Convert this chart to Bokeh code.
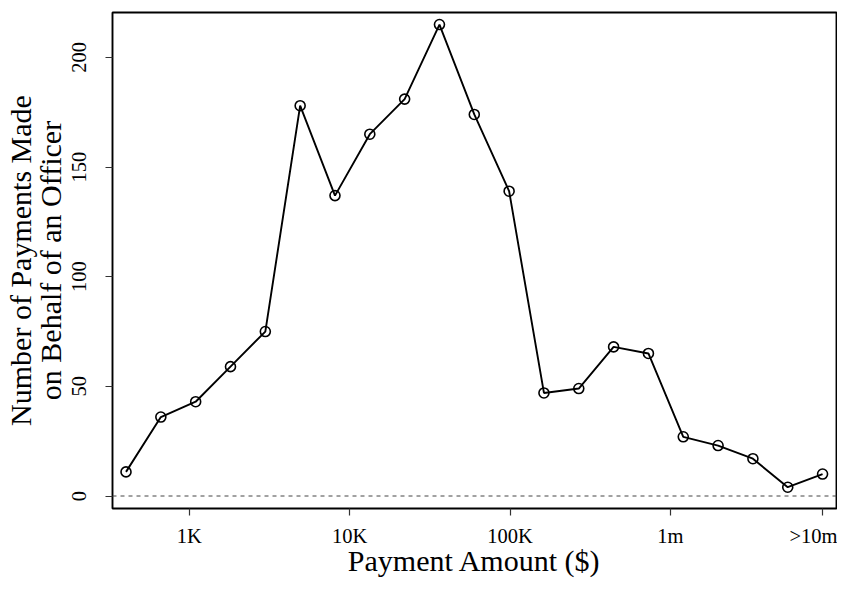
import numpy as np
from bokeh.plotting import figure
from bokeh.models import Range1d, FixedTicker, Span
from bokeh.embed import file_html
from bokeh.resources import INLINE

# ---- data ----
# x positions: natural log of payment amount (bins of width 0.5)
log_amount = [6.0, 6.5, 7.0, 7.5, 8.0, 8.5, 9.0, 9.5, 10.0, 10.5, 11.0,
              11.5, 12.0, 12.5, 13.0, 13.5, 14.0, 14.5, 15.0, 15.5, 16.0]
n_payments = [11, 36, 43, 59, 75, 178, 137, 165, 181, 215, 174,
              139, 47, 49, 68, 65, 27, 23, 17, 4, 10]
tick_amounts = [1000, 10000, 100000, 1000000]
tick_labels = ["1K", "10K", "100K", "1m", ">10m"]
y_ticks = [0, 50, 100, 150, 200]

x_lo, x_hi = 5.806, 16.2
y_lo, y_hi = -5.7, 220.5

FONT = "Liberation Serif"

p = figure(width=837, height=579, output_backend="svg", toolbar_location=None,
           x_range=Range1d(x_lo, x_hi), y_range=Range1d(y_lo, y_hi),
           min_border_left=112, min_border_right=1, min_border_top=12,
           min_border_bottom=65)
p.grid.visible = False
p.outline_line_color = "black"
p.outline_line_width = 1.9
p.background_fill_color = "white"
p.border_fill_color = "white"

tick_pos = [round(float(v), 4) for v in np.log(tick_amounts)] + [log_amount[-1]]
p.xaxis.ticker = FixedTicker(ticks=tick_pos)
p.xaxis.major_label_overrides = {t: lab for t, lab in zip(tick_pos, tick_labels)}
p.yaxis.ticker = FixedTicker(ticks=y_ticks)

for ax in (p.xaxis, p.yaxis):
    ax.axis_line_color = None
    ax.major_tick_out = 7
    ax.major_tick_in = 0
    ax.major_tick_line_color = "#333333"
    ax.major_tick_line_width = 1.2
    ax.minor_tick_line_color = None
    ax.major_label_text_font = FONT
    ax.major_label_text_font_size = "20.5px"
    ax.major_label_text_color = "black"
    ax.axis_label_text_font = FONT
    ax.axis_label_text_font_size = "30px"
    ax.axis_label_text_font_style = "normal"
    ax.axis_label_text_color = "black"

p.xaxis.major_label_standoff = 9
p.xaxis.axis_label = "Payment Amount ($)"
p.xaxis.axis_label_standoff = -6

p.yaxis.major_label_orientation = "vertical"
p.yaxis.major_label_standoff = 19
p.yaxis.axis_label = "Number of Payments Made\non Behalf of an Officer"
p.yaxis.axis_label_text_line_height = 0.9
p.yaxis.axis_label_standoff = 3

p.add_layout(Span(location=0, dimension="width", line_color="#444444",
                  line_width=1, line_dash="4 4"))

p.line(log_amount, n_payments, line_color="black", line_width=1.9)
p.scatter(log_amount, n_payments, size=10, marker="circle",
          fill_color=None, line_color="black", line_width=1.6)

open("out.html", "w").write(file_html(p, INLINE))
